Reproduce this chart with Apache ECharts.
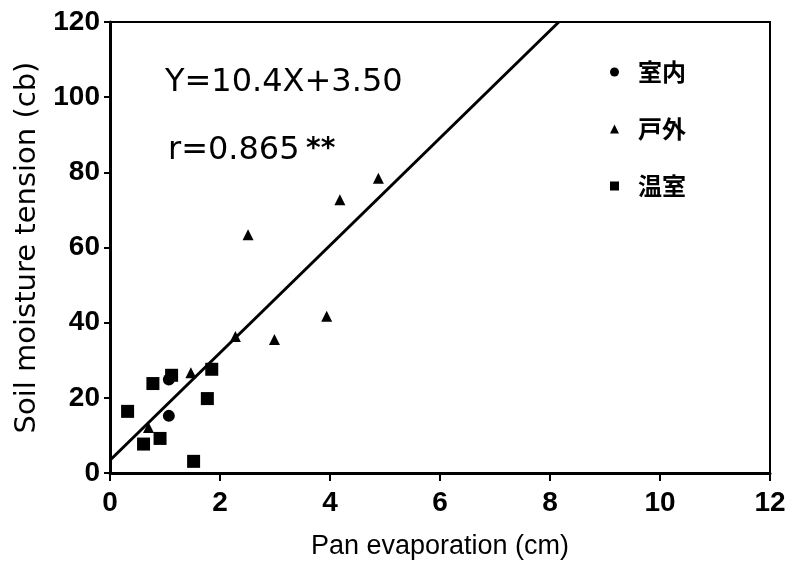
<!DOCTYPE html>
<html>
<head>
<meta charset="utf-8">
<script src="https://cdn.jsdelivr.net/npm/echarts@6/dist/echarts.min.js"></script>
<style>html,body{margin:0;padding:0;background:#fff;}#c{width:793px;height:565px;}</style>
</head>
<body>
<div id="c"></div>
<script>
// Data
var xTicks = [0, 2, 4, 6, 8, 10, 12];
var yTicks = [0, 20, 40, 60, 80, 100, 120];
var seriesNames = ['室内', '戸外', '温室'];
var indoor = [[1.07, 24.9], [1.07, 15.2]];
var outdoor = [[0.70, 12.1], [1.47, 26.7], [2.28, 36.3], [2.99, 35.5], [2.51, 63.4], [3.94, 41.7], [4.18, 72.7], [4.88, 78.4]];
var greenhouse = [[0.32, 16.4], [0.78, 23.8], [1.12, 26.0], [1.85, 27.6], [1.77, 19.8], [0.91, 9.2], [0.61, 7.7], [1.52, 3.1]];
var regLine = [[0, 3.4], [8.16, 120]];
var eqText = 'Y=10.4X+3.50';
var rText = 'r=0.865';
var sigText = '**';

var chart = echarts.init(document.getElementById('c'), null, {renderer: 'canvas'});
var black = '#000';
var option = {
  backgroundColor: '#fff',
  animation: false,
  grid: {left: 110, right: 23, top: 22, bottom: 91, show: true, borderColor: black, borderWidth: 2, backgroundColor: 'transparent'},
  xAxis: {
    type: 'value', min: xTicks[0], max: xTicks[xTicks.length - 1], interval: 2,
    name: 'Pan evaporation (cm)', nameLocation: 'middle', nameGap: 60,
    nameTextStyle: {fontFamily: 'Liberation Sans', fontSize: 27, color: black},
    axisLine: {show: true, lineStyle: {color: black, width: 3}},
    axisTick: {show: true, inside: false, length: 8, lineStyle: {color: black, width: 2}},
    axisLabel: {fontFamily: 'Liberation Sans', fontSize: 28, fontWeight: 'bold', color: black, margin: 16},
    splitLine: {show: false}
  },
  yAxis: {
    type: 'value', min: yTicks[0], max: yTicks[yTicks.length - 1], interval: 20,
    name: 'Soil moisture tension (cb)', nameLocation: 'middle', nameGap: 68, nameRotate: 90,
    nameTextStyle: {fontFamily: 'DejaVu Sans', fontSize: 29, color: black},
    axisLine: {show: true, lineStyle: {color: black, width: 3}},
    axisTick: {show: true, inside: false, length: 6, lineStyle: {color: black, width: 2}},
    axisLabel: {fontFamily: 'Liberation Sans', fontSize: 28, fontWeight: 'bold', color: black, margin: 10},
    splitLine: {show: false}
  },
  legend: {
    orient: 'vertical', left: 605, top: 55, itemGap: 33, itemWidth: 9, itemHeight: 9,
    data: [
      {name: seriesNames[0], icon: 'circle'},
      {name: seriesNames[1], icon: 'triangle'},
      {name: seriesNames[2], icon: 'rect'}
    ],
    itemStyle: {opacity: 1},
    textStyle: {fontFamily: 'Noto Sans CJK JP', fontSize: 24, fontWeight: 'bold', color: black, lineHeight: 24, padding: [0, 0, 0, 14]}
  },
  graphic: [
    {type: 'text', left: 165, top: 67, style: {text: eqText, fontFamily: 'DejaVu Sans', fontSize: 32, fill: black}},
    {type: 'text', left: 168, top: 135, style: {text: rText, fontFamily: 'DejaVu Sans', fontSize: 32, fill: black}},
    {type: 'text', left: 306, top: 136, style: {text: sigText, fontFamily: 'DejaVu Sans', fontSize: 28, fontWeight: 'bold', fill: black}}
  ],
  series: [
    {name: seriesNames[0], type: 'scatter', symbol: 'circle', symbolSize: 12, data: indoor, itemStyle: {color: black, opacity: 1}},
    {name: seriesNames[1], type: 'scatter', symbol: 'triangle', symbolSize: 11, data: outdoor, itemStyle: {color: black, opacity: 1}},
    {name: seriesNames[2], type: 'scatter', symbol: 'rect', symbolSize: 13, data: greenhouse, itemStyle: {color: black, opacity: 1}},
    {name: 'fit', type: 'line', data: regLine, symbol: 'none', silent: true, lineStyle: {color: black, width: 3}, z: 1}
  ]
};
chart.setOption(option);
</script>
</body>
</html>
